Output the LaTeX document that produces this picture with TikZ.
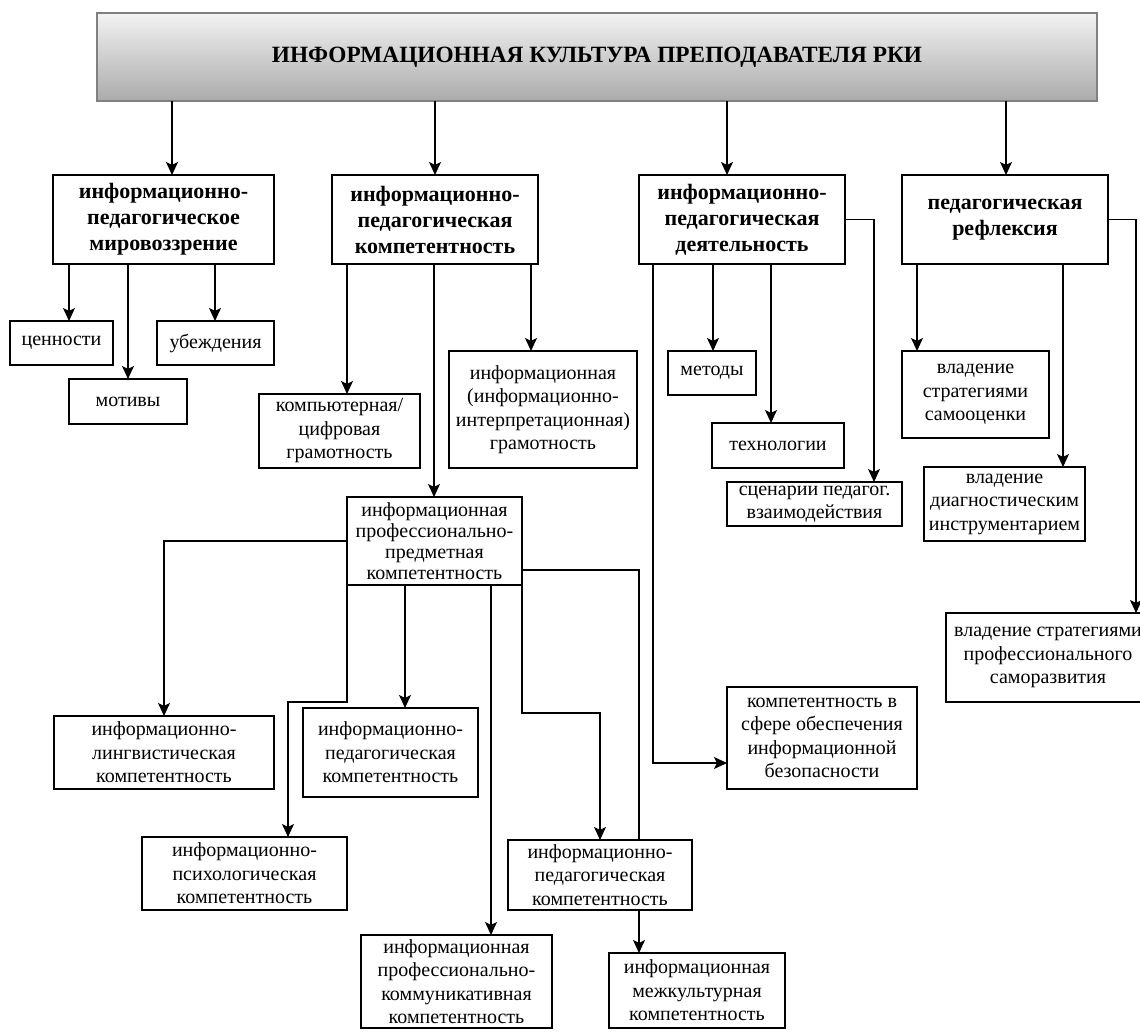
\documentclass[tikz,border=0pt]{standalone}
\usepackage{fontspec}
\setmainfont{Liberation Serif}
\usetikzlibrary{arrows.meta}
\begin{document}
\begin{tikzpicture}[x=1pt,y=-1pt,inner sep=1pt,outer sep=0pt,very thick,>={Stealth[length=13pt,width=12pt,inset=3pt]},
topblock/.style={draw=black!50,line width=1.6pt,rectangle,top color=black!5,bottom color=black!33,minimum width=1000pt,minimum height=88pt,font=\bfseries\fontsize{23.3}{27}\selectfont},
mainblock/.style={draw,rectangle,fill=white,align=center,line width=1.4pt,font=\bfseries\fontsize{22}{26}\selectfont},
compblock/.style={draw,rectangle,fill=white,align=center,line width=1.4pt,font=\fontsize{20}{23.5}\selectfont}]
\useasboundingbox (0,0) rectangle (1140,1035);
\draw (597,57) node[topblock] (top) {ИНФОРМАЦИОННАЯ КУЛЬТУРА ПРЕПОДАВАТЕЛЯ РКИ};
\draw (163.5,219.5) node[mainblock,minimum width=221pt,minimum height=89pt] (mirov) {информационно-\\педагогическое\\мировоззрение};
\draw (435,219.5) node[mainblock,minimum width=206pt,minimum height=89pt] (kompet) {информационно-\\педагогическая\\компетентность};
\draw (742,219.5) node[mainblock,minimum width=206pt,minimum height=89pt] (deyat) {информационно-\\педагогическая\\деятельность};
\draw (1005,219.5) node[mainblock,minimum width=206pt,minimum height=89pt] (reflex) {педагогическая\\рефлексия};
\draw (61.5,343) node[compblock,minimum width=103pt,minimum height=44pt] (cenn) {ценности};
\draw (215.5,343) node[compblock,minimum width=117pt,minimum height=44pt] (ubezh) {убеждения};
\draw (128,401.5) node[compblock,minimum width=118pt,minimum height=45pt] (motiv) {мотивы};
\draw (339.5,431) node[compblock,minimum width=161pt,minimum height=74pt] (kompgr) {компьютерная/\\цифровая\\грамотность};
\draw (543,409.5) node[compblock,minimum width=188pt,minimum height=117pt] (infogr) {информационная\\(информационно-\\интерпретационная)\\грамотность};
\draw (434.5,541) node[compblock,minimum width=175pt,minimum height=88pt,font=\fontsize{20}{21}\selectfont] (ippk) {информационная\\профессионально-\\предметная\\компетентность};
\draw (164,752.5) node[compblock,minimum width=220pt,minimum height=73pt] (ling) {информационно-\\лингвистическая\\компетентность};
\draw (390.5,752.5) node[compblock,minimum width=175pt,minimum height=89pt] (ped1) {информационно-\\педагогическая\\компетентность};
\draw (244.5,873.5) node[compblock,minimum width=205pt,minimum height=73pt] (psych) {информационно-\\психологическая\\компетентность};
\draw (456.5,981.5) node[compblock,minimum width=191pt,minimum height=93pt] (komm) {информационная\\профессионально-\\коммуникативная\\компетентность};
\draw (600,875) node[compblock,minimum width=184pt,minimum height=70pt] (ped2) {информационно-\\педагогическая\\компетентность};
\draw (697,990.5) node[compblock,minimum width=176pt,minimum height=75pt] (mezh) {информационная\\межкультурная\\компетентность};
\draw (712,373) node[compblock,minimum width=88pt,minimum height=44pt] (metod) {методы};
\draw (778,445.5) node[compblock,minimum width=132pt,minimum height=45pt] (tekhn) {технологии};
\draw (814.5,504) node[compblock,minimum width=175pt,minimum height=44pt] (scen) {сценарии педагог.\\взаимодействия};
\draw (822,738) node[compblock,minimum width=190pt,minimum height=102pt] (bez) {компетентность в\\сфере обеспечения\\информационной\\безопасности};
\draw (975.5,394.5) node[compblock,minimum width=147pt,minimum height=87pt] (samoots) {владение\\стратегиями\\самооценки};
\draw (1004.5,504) node[compblock,minimum width=161pt,minimum height=74pt] (diag) {владение\\диагностическим\\инструментарием};
\draw (1048,657.5) node[compblock,minimum width=204pt,minimum height=89pt] (samoraz) {владение стратегиями\\профессионального\\саморазвития};
\draw[->] (top.south -| 172,0) -- (mirov.north -| 172,0);
\draw[->] (top.south -| 435,0) -- (kompet.north -| 435,0);
\draw[->] (top.south -| 727,0) -- (deyat.north -| 727,0);
\draw[->] (top.south -| 1006,0) -- (reflex.north -| 1006,0);
\draw[->] (mirov.south -| 69,0) -- (cenn.north -| 69,0);
\draw[->] (mirov.south -| 128,0) -- (motiv.north -| 128,0);
\draw[->] (mirov.south -| 215,0) -- (ubezh.north -| 215,0);
\draw[->] (kompet.south -| 347,0) -- (kompgr.north -| 347,0);
\draw[->] (kompet.south -| 531,0) -- (infogr.north -| 531,0);
\draw[->] (kompet.south -| 434,0) -- (ippk.north -| 434,0);
\draw[->] (ippk.west) -| (ling.north);
\draw[->] (ippk.south west) -- (347,702) -| (psych.north -| 288,0);
\draw[->] (ippk.south -| 405,0) -- (ped1.north -| 405,0);
\draw[->] (ippk.south -| 491,0) -- (komm.north -| 491,0);
\draw[->] (ippk.south east) -- (522,713) -| (ped2.north -| 600,0);
\draw (ippk.east |- 0,570) -| (ped2.north -| 639,0);
\draw[->] (ped2.south -| 639,0) -- (mezh.north -| 639,0);
\draw[->] (deyat.south -| 653,0) |- (bez.west |- 0,763);
\draw[->] (deyat.south -| 713,0) -- (metod.north -| 713,0);
\draw[->] (deyat.south -| 771,0) -- (tekhn.north -| 771,0);
\draw[->] (deyat.east) -| (scen.north -| 874,0);
\draw[->] (reflex.south -| 917,0) -- (samoots.north -| 917,0);
\draw[->] (reflex.south -| 1063,0) -- (diag.north -| 1063,0);
\draw[->] (reflex.east) -| (samoraz.north -| 1136,0);
\end{tikzpicture}
\end{document}
